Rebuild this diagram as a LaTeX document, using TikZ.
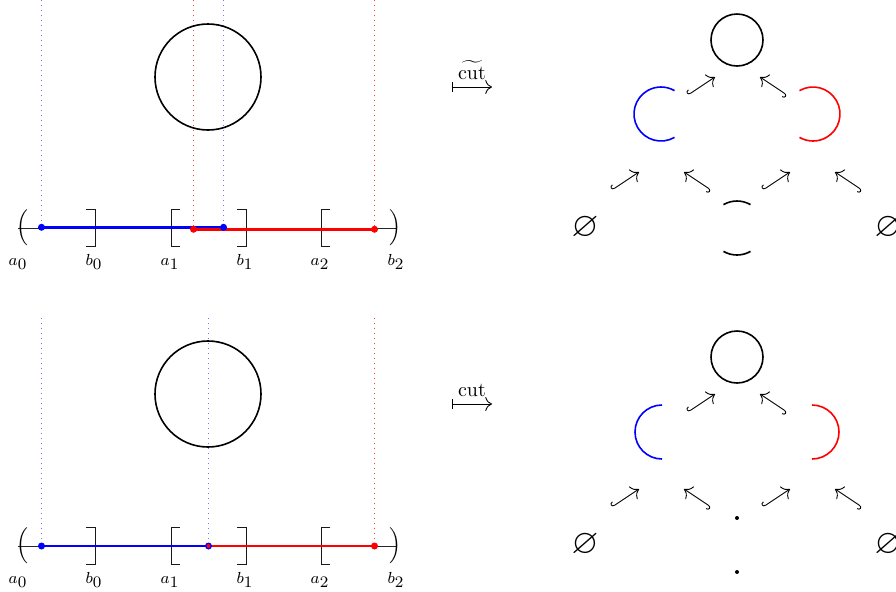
\documentclass[tikz,border=0pt]{standalone}
\usepackage{amsmath,amssymb}
\usetikzlibrary{arrows.meta}
\begin{document}
\begin{tikzpicture}[x=0.5pt,y=-0.5pt,
  numline/.style={line width=0.4pt, black!85},
  delim/.style={inner sep=0pt, outer sep=0pt},
  brk/.style={line width=0.5pt, black!90},
  lbl/.style={anchor=base, inner sep=0pt, font=\footnotesize},
  bline/.style={blue, line width=1.2pt},
  rline/.style={red, line width=1.2pt},
  bguide/.style={blue!55, dotted, line width=0.5pt},
  rguide/.style={red!75, dotted, line width=0.5pt},
  thickcirc/.style={line width=0.8pt},
  barc/.style={blue, line width=0.8pt},
  rarc/.style={red, line width=0.8pt},
  hookarr/.style={line width=0.45pt, {Hooks[right,width=4.5pt,length=1.6pt]}-{Computer Modern Rightarrow[scale=1.4]}},
  maparr/.style={line width=0.45pt, {Bar[width=5pt]}-{Computer Modern Rightarrow[scale=1.3]}},
  empt/.style={inner sep=0pt, font=\LARGE},
  cutlbl/.style={anchor=base, inner sep=0pt}
]
\useasboundingbox (0,0) rectangle (896,591);

% ================= top left =================
\draw[bguide] (41.5,0) -- (41.5,228);
\draw[rguide] (193.5,0) -- (193.5,228);
\draw[bguide] (223.5,0) -- (223.5,228);
\draw[rguide] (374.5,0) -- (374.5,228);
\draw[thickcirc] (208,77) circle[radius=53];

\draw[numline] (18,228) -- (397,228);
\node[delim] (tP0) at (22,228) {$\Big($};
\node[delim] (tP1) at (395,228) {$\Big)$};
\draw[brk] (86,209) -- (95,209) -- (95,246) -- (86,246);
\draw[brk] (180,209) -- (171,209) -- (171,246) -- (180,246);
\draw[brk] (237,209) -- (246,209) -- (246,246) -- (237,246);
\draw[brk] (330,209) -- (321,209) -- (321,246) -- (330,246);
\node[lbl] (tla0) at (18,265) {$a_{\textstyle 0}$};
\node[lbl] (tlb0) at (94,265) {$b_{\textstyle 0}$};
\node[lbl] (tla1) at (170,265) {$a_{\textstyle 1}$};
\node[lbl] (tlb1) at (245,265) {$b_{\textstyle 1}$};
\node[lbl] (tla2) at (320,265) {$a_{\textstyle 2}$};
\node[lbl] (tlb2) at (396,265) {$b_{\textstyle 2}$};

\draw[bline] (41.5,227.3) -- (223.5,227.3);
\draw[rline] (193.5,229.3) -- (374.5,229.3);
\fill[blue] (41.5,227.3) circle[radius=1.75pt];
\fill[red] (193.5,229.3) circle[radius=1.75pt];
\fill[blue] (223.5,227.3) circle[radius=1.75pt];
\fill[red] (374.5,229.3) circle[radius=1.75pt];

% ================= bottom left =================
\draw[bguide] (41.5,318) -- (41.5,546);
\draw[rguide] (208.5,318) -- (208.5,546);
\draw[bguide] (208.5,318) -- (208.5,546);
\draw[rguide] (374.5,318) -- (374.5,546);
\draw[thickcirc] (208,394) circle[radius=53];

\draw[numline] (18,546) -- (397,546);
\node[delim] (bP0) at (22,546) {$\Big($};
\node[delim] (bP1) at (395,546) {$\Big)$};
\draw[brk] (86,527) -- (95,527) -- (95,564) -- (86,564);
\draw[brk] (180,527) -- (171,527) -- (171,564) -- (180,564);
\draw[brk] (237,527) -- (246,527) -- (246,564) -- (237,564);
\draw[brk] (330,527) -- (321,527) -- (321,564) -- (330,564);
\node[lbl] (bla0) at (18,583) {$a_{\textstyle 0}$};
\node[lbl] (blb0) at (94,583) {$b_{\textstyle 0}$};
\node[lbl] (bla1) at (170,583) {$a_{\textstyle 1}$};
\node[lbl] (blb1) at (245,583) {$b_{\textstyle 1}$};
\node[lbl] (bla2) at (320,583) {$a_{\textstyle 2}$};
\node[lbl] (blb2) at (396,583) {$b_{\textstyle 2}$};

\draw[bline] (41.5,546) -- (208.5,546);
\draw[rline] (208.5,546) -- (374.5,546);
\fill[blue] (41.5,546) circle[radius=1.75pt];
\fill[blue] (208.5,546) circle[radius=1.75pt];
\fill[red] (208.5,546) circle[radius=1pt];
\fill[red] (374.5,546) circle[radius=1.75pt];

% ================= maps =================
\coordinate (m1s) at (452,87);
\coordinate (m1e) at (492,87);
\draw[maparr] (m1s) -- (m1e);
\node[cutlbl] (cut1) at (472,79) {$\widetilde{\mathrm{cut}}$};
\coordinate (m2s) at (452,404);
\coordinate (m2e) at (492,404);
\draw[maparr] (m2s) -- (m2e);
\node[cutlbl] (cut2) at (472,396) {$\mathrm{cut}$};

% ================= top right =================
\draw[thickcirc] (737,40) circle[radius=26];
\draw[barc] ([shift={(60:27)}]661,114) arc[start angle=60, end angle=300, radius=27];
\draw[rarc] ([shift={(-120:27)}]813,114) arc[start angle=-120, end angle=120, radius=27];
\draw[thickcirc] ([shift={(60:27)}]737,228) arc[start angle=60, end angle=120, radius=27];
\draw[thickcirc] ([shift={(240:27)}]737,228) arc[start angle=240, end angle=300, radius=27];
\node[empt] (e1) at (585,228) {$\varnothing$};
\node[empt] (e2) at (888,228) {$\varnothing$};

\coordinate (t1s) at (688,95);  \coordinate (t1e) at (715,77);
\coordinate (t2s) at (787,95);  \coordinate (t2e) at (760,77);
\coordinate (t3s) at (612,190); \coordinate (t3e) at (639,172);
\coordinate (t4s) at (711,190); \coordinate (t4e) at (684,172);
\coordinate (t5s) at (763,190); \coordinate (t5e) at (790,172);
\coordinate (t6s) at (862,190); \coordinate (t6e) at (835,172);
\foreach \i in {1,...,6} {\draw[hookarr] (t\i s) -- (t\i e);}

% ================= bottom right =================
\draw[thickcirc] (737,357) circle[radius=26];
\draw[barc] ([shift={(90:27)}]662,432) arc[start angle=90, end angle=270, radius=27];
\draw[rarc] ([shift={(-90:27)}]812,432) arc[start angle=-90, end angle=90, radius=27];
\fill (737,518) circle[radius=1pt];
\fill (737,572) circle[radius=1pt];
\node[empt] (e3) at (585,545) {$\varnothing$};
\node[empt] (e4) at (888,545) {$\varnothing$};

\coordinate (u1s) at (688,412);  \coordinate (u1e) at (715,394);
\coordinate (u2s) at (787,412);  \coordinate (u2e) at (760,394);
\coordinate (u3s) at (612,507); \coordinate (u3e) at (639,489);
\coordinate (u4s) at (711,507); \coordinate (u4e) at (684,489);
\coordinate (u5s) at (763,507); \coordinate (u5e) at (790,489);
\coordinate (u6s) at (862,507); \coordinate (u6e) at (835,489);
\foreach \i in {1,...,6} {\draw[hookarr] (u\i s) -- (u\i e);}
\end{tikzpicture}
\end{document}
